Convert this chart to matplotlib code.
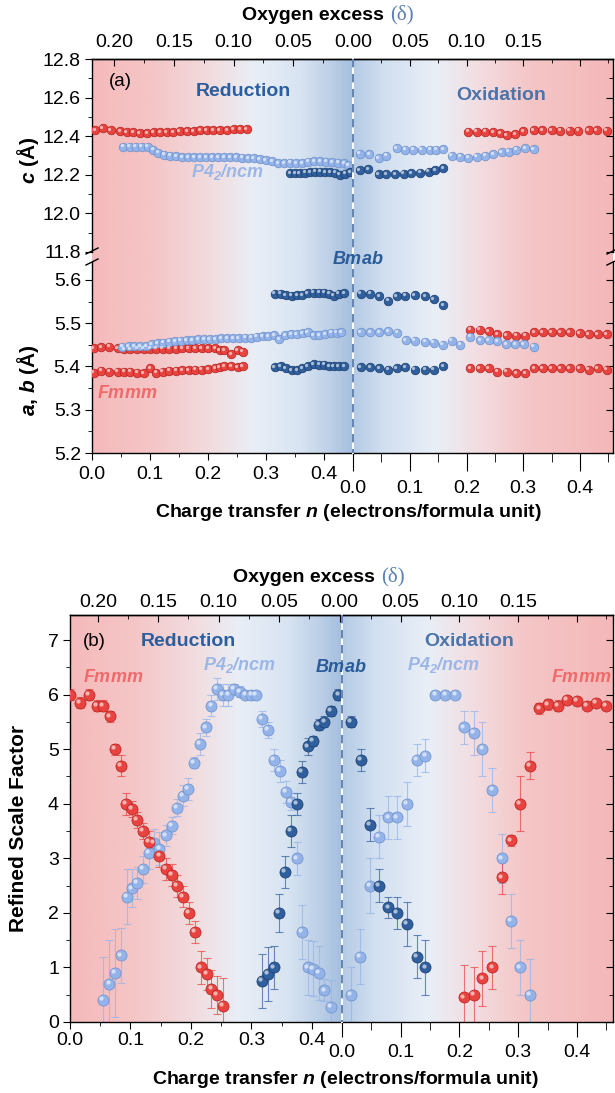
import numpy as np
import matplotlib
matplotlib.use("Agg")
import matplotlib.pyplot as plt
from matplotlib.colors import LinearSegmentedColormap
from matplotlib.transforms import ScaledTranslation
from matplotlib.lines import Line2D

plt.rcParams['font.family'] = ['Liberation Sans', 'DejaVu Sans']
plt.rcParams['mathtext.fontset'] = 'custom'
plt.rcParams['mathtext.rm'] = 'Liberation Sans:bold:italic'
plt.rcParams['mathtext.it'] = 'Liberation Sans:bold:italic'
plt.rcParams['mathtext.bf'] = 'Liberation Sans:bold:italic'

# ---------------- data: panel (a), lattice parameter c ----------------
ct_red_l_n = [0.005, 0.018, 0.031, 0.047, 0.058, 0.069, 0.080, 0.092, 0.103, 0.114, 0.125, 0.136,
              0.147, 0.159, 0.170, 0.181, 0.192, 0.203, 0.214, 0.226, 0.237, 0.248, 0.259]
ct_red_l = [12.43, 12.44, 12.43, 12.425, 12.42, 12.42, 12.415, 12.415, 12.42, 12.42, 12.42, 12.42,
            12.425, 12.425, 12.425, 12.43, 12.43, 12.43, 12.43, 12.43, 12.435, 12.435, 12.435]
ct_p4_l_n = [0.052, 0.063, 0.073, 0.083, 0.093, 0.102, 0.111, 0.121, 0.131, 0.141, 0.151, 0.161, 0.171,
             0.181, 0.191, 0.201, 0.211, 0.221, 0.231, 0.241, 0.251, 0.261, 0.271, 0.281, 0.291, 0.302,
             0.312, 0.322, 0.332, 0.342, 0.352, 0.362, 0.372, 0.382, 0.392, 0.402, 0.412, 0.422, 0.429]
ct_p4_l = [12.345, 12.345, 12.345, 12.345, 12.345, 12.33, 12.315, 12.305, 12.30, 12.295, 12.29, 12.29,
           12.29, 12.29, 12.29, 12.29, 12.29, 12.29, 12.29, 12.29, 12.288, 12.285, 12.285, 12.28, 12.275,
           12.27, 12.26, 12.26, 12.262, 12.26, 12.26, 12.268, 12.272, 12.27, 12.268, 12.265, 12.262,
           12.26, 12.25]
ct_bm_l_n = [0.332, 0.340, 0.348, 0.357, 0.365, 0.374, 0.382, 0.390, 0.399, 0.407, 0.415, 0.424, 0.432]
ct_bm_l = [12.208, 12.208, 12.208, 12.21, 12.215, 12.217, 12.217, 12.215, 12.215, 12.21, 12.2, 12.205, 12.212]
ct_p4_r_n = [0.012, 0.029, 0.045, 0.059, 0.077, 0.092, 0.106, 0.121, 0.136, 0.147, 0.159, 0.174, 0.189,
             0.203, 0.218, 0.233, 0.247, 0.262, 0.274, 0.288, 0.303, 0.318]
ct_p4_r = [12.31, 12.308, 12.285, 12.30, 12.337, 12.33, 12.33, 12.33, 12.33, 12.33, 12.333, 12.30,
           12.294, 12.289, 12.294, 12.30, 12.306, 12.316, 12.32, 12.33, 12.337, 12.333]
ct_bm_r_n = [0.012, 0.027, 0.045, 0.059, 0.074, 0.089, 0.103, 0.118, 0.133, 0.145, 0.159]
ct_bm_r = [12.225, 12.228, 12.203, 12.203, 12.203, 12.206, 12.208, 12.211, 12.216, 12.225, 12.234]
ct_red_r_n = [0.203, 0.218, 0.233, 0.247, 0.259, 0.271, 0.286, 0.300, 0.318, 0.333, 0.350, 0.365,
              0.382, 0.397, 0.415, 0.429, 0.447]
ct_red_r = [12.423, 12.423, 12.423, 12.42, 12.415, 12.406, 12.41, 12.427, 12.432, 12.432, 12.432,
            12.428, 12.428, 12.428, 12.432, 12.432, 12.428]

# ---------------- data: panel (a), lattice parameters a, b ----------------
ab_red_l_n = [0.003, 0.016, 0.030, 0.044, 0.055, 0.066, 0.078, 0.089, 0.100, 0.111, 0.122, 0.133,
              0.145, 0.156, 0.167, 0.178, 0.189, 0.200, 0.212, 0.220, 0.228, 0.240, 0.251, 0.260]
ab_red_l_b = [5.442, 5.444, 5.446, 5.442, 5.44, 5.44, 5.441, 5.441, 5.441, 5.441, 5.441, 5.441,
              5.441, 5.442, 5.442, 5.442, 5.442, 5.442, 5.442, 5.438, 5.437, 5.429, 5.438, 5.434]
ab_red_l_a = [5.386, 5.39, 5.388, 5.388, 5.388, 5.388, 5.386, 5.384, 5.396, 5.386, 5.388, 5.39,
              5.39, 5.392, 5.392, 5.393, 5.393, 5.394, 5.396, 5.398, 5.40, 5.40, 5.398, 5.40]
ab_p4_l_n = [0.052, 0.063, 0.073, 0.083, 0.093, 0.103, 0.113, 0.123, 0.133, 0.143, 0.153, 0.163, 0.173,
             0.183, 0.193, 0.203, 0.213, 0.223, 0.233, 0.243, 0.253, 0.264, 0.274, 0.284, 0.294, 0.304,
             0.314, 0.323, 0.333, 0.343, 0.353, 0.363, 0.372, 0.382, 0.392, 0.402, 0.412, 0.422, 0.430]
ab_p4_l = [5.446, 5.447, 5.447, 5.447, 5.447, 5.451, 5.454, 5.455, 5.457, 5.459, 5.46, 5.461, 5.461,
           5.463, 5.463, 5.463, 5.463, 5.465, 5.465, 5.465, 5.465, 5.467, 5.467, 5.469, 5.47, 5.47,
           5.472, 5.463, 5.473, 5.475, 5.475, 5.477, 5.48, 5.473, 5.473, 5.474, 5.478, 5.478, 5.48]
ab_bm_l_n = [0.315, 0.325, 0.334, 0.344, 0.354, 0.362, 0.372, 0.382, 0.392, 0.400, 0.409, 0.417, 0.425, 0.435]
ab_bm_l_b = [5.568, 5.568, 5.565, 5.564, 5.565, 5.565, 5.569, 5.571, 5.571, 5.571, 5.568, 5.564, 5.568, 5.569]
ab_bm_l_a = [5.398, 5.401, 5.396, 5.392, 5.392, 5.396, 5.401, 5.406, 5.404, 5.404, 5.401, 5.40, 5.40, 5.401]
ab_bm_r_n = [0.0135, 0.030, 0.046, 0.062, 0.077, 0.092, 0.109, 0.127, 0.142, 0.159]
ab_bm_r_b = [5.568, 5.568, 5.562, 5.552, 5.562, 5.564, 5.565, 5.562, 5.556, 5.542]
ab_bm_r_a = [5.398, 5.398, 5.396, 5.393, 5.396, 5.398, 5.393, 5.393, 5.393, 5.401]
ab_p4_r_n = [0.0135, 0.030, 0.046, 0.062, 0.078, 0.093, 0.109, 0.127, 0.142, 0.158, 0.174, 0.189,
             0.206, 0.224, 0.239, 0.254, 0.270, 0.286, 0.301, 0.318]
ab_p4_r = [5.48, 5.48, 5.48, 5.482, 5.478, 5.461, 5.46, 5.457, 5.455, 5.45, 5.46, 5.45, 5.469, 5.461,
           5.461, 5.459, 5.451, 5.451, 5.451, 5.446]
ab_red_r_n = [0.206, 0.223, 0.239, 0.254, 0.271, 0.287, 0.303, 0.319, 0.334, 0.350, 0.366, 0.382,
              0.399, 0.415, 0.431, 0.447]
ab_red_r_b = [5.485, 5.485, 5.481, 5.475, 5.473, 5.471, 5.471, 5.479, 5.479, 5.479, 5.479, 5.479,
              5.477, 5.475, 5.475, 5.475]
ab_red_r_a = [5.396, 5.396, 5.396, 5.388, 5.388, 5.384, 5.384, 5.396, 5.396, 5.396, 5.396, 5.396,
              5.396, 5.393, 5.396, 5.393]

# ---------------- data: panel (b), refined scale factor ----------------
sf_red_l_n = [0.0, 0.016, 0.031, 0.045, 0.055, 0.066, 0.074, 0.084, 0.092, 0.102, 0.111, 0.121, 0.130,
              0.148, 0.158, 0.168, 0.177, 0.187, 0.197, 0.206, 0.216, 0.226, 0.234, 0.243, 0.253]
sf_red_l = [6.0, 5.85, 6.0, 5.8, 5.8, 5.6, 5.0, 4.7, 4.0, 3.9, 3.7, 3.5, 3.3, 3.05, 2.8, 2.7, 2.5,
            2.3, 2.0, 1.65, 1.0, 0.88, 0.6, 0.5, 0.3]
sf_red_l_err = [0.1, 0.1, 0.1, 0.1, 0.1, 0.1, 0.1, 0.2, 0.2, 0.15, 0.15, 0.15, 0.2, 0.2, 0.2, 0.2,
                0.2, 0.2, 0.2, 0.2, 0.3, 0.3, 0.35, 0.35, 0.5]
sf_p4_l_n = [0.055, 0.065, 0.074, 0.084, 0.094, 0.102, 0.111, 0.121, 0.131, 0.139, 0.148, 0.158, 0.168,
             0.177, 0.187, 0.195, 0.205, 0.215, 0.225, 0.234, 0.243, 0.253, 0.262, 0.271, 0.281, 0.290,
             0.300, 0.308, 0.317, 0.328, 0.337, 0.347, 0.357, 0.365, 0.375, 0.384, 0.394, 0.402, 0.412,
             0.421, 0.431]
sf_p4_l = [0.4, 0.7, 0.9, 1.22, 2.3, 2.45, 2.55, 2.8, 3.1, 3.28, 3.18, 3.42, 3.6, 3.93, 4.15, 4.27,
           4.75, 5.1, 5.4, 5.8, 6.1, 6.0, 6.0, 6.1, 6.05, 6.0, 6.0, 6.0, 5.55, 5.35, 4.8, 4.6, 4.22,
           4.04, 3.0, 1.65, 1.0, 0.98, 0.9, 0.58, 0.27]
sf_p4_l_err = [0.8, 0.8, 0.8, 0.5, 0.5, 0.35, 0.3, 0.25, 0.3, 0.25, 0.3, 0.2, 0.15, 0.15, 0.2, 0.2,
               0.1, 0.2, 0.15, 0.2, 0.2, 0.2, 0.2, 0.1, 0.1, 0.05, 0.05, 0.05, 0.15, 0.15, 0.2, 0.2,
               0.2, 0.15, 0.3, 0.5, 0.5, 0.5, 0.5, 0.2, 0.5]
sf_bm_l_n = [0.318, 0.328, 0.337, 0.346, 0.356, 0.365, 0.375, 0.384, 0.394, 0.402, 0.412, 0.421, 0.432, 0.444]
sf_bm_l = [0.75, 0.88, 1.0, 2.0, 2.75, 3.5, 4.0, 4.58, 5.05, 5.15, 5.45, 5.5, 5.7, 6.0]
sf_bm_l_err = [0.5, 0.5, 0.4, 0.35, 0.3, 0.3, 0.2, 0.2, 0.15, 0.1, 0.1, 0.1, 0.1, 0.1]
sf_bm_r_n = [0.015, 0.032, 0.047, 0.063, 0.079, 0.094, 0.111, 0.127, 0.142]
sf_bm_r = [5.5, 4.8, 3.62, 2.5, 2.1, 2.0, 1.8, 1.2, 1.0]
sf_bm_r_err = [0.1, 0.2, 0.3, 0.3, 0.2, 0.3, 0.4, 0.4, 0.5]
sf_p4_r_n = [0.015, 0.031, 0.047, 0.063, 0.079, 0.094, 0.111, 0.127, 0.142, 0.159, 0.176, 0.193,
             0.208, 0.225, 0.239, 0.256, 0.272, 0.288, 0.303, 0.320]
sf_p4_r = [0.5, 1.2, 2.5, 3.4, 3.75, 3.75, 4.0, 4.8, 4.88, 6.0, 6.0, 6.0, 5.4, 5.3, 5.0, 4.25, 3.0,
           1.85, 1.0, 0.5]
sf_p4_r_err = [0.5, 0.5, 0.5, 0.4, 0.4, 0.4, 0.4, 0.3, 0.3, 0.05, 0.05, 0.05, 0.3, 0.4, 0.5, 0.4,
               0.45, 0.5, 0.5, 0.65]
sf_red_r_n = [0.208, 0.225, 0.239, 0.256, 0.272, 0.288, 0.303, 0.320, 0.336, 0.350, 0.367, 0.383,
              0.400, 0.417, 0.433, 0.450]
sf_red_r = [0.45, 0.5, 0.8, 1.0, 2.65, 3.33, 4.0, 4.7, 5.75, 5.82, 5.8, 5.9, 5.88, 5.8, 5.85, 5.8]
sf_red_r_err = [0.6, 0.5, 0.5, 0.4, 0.3, 0.1, 0.5, 0.25, 0.1, 0.1, 0.1, 0.05, 0.05, 0.05, 0.05, 0.05]

# extent of reduction / oxidation branches (n at the dashed line and at the right edge)
n_end_a = (0.437, 0.458)
n_end_b = (0.446, 0.4615)

# colours
RED, RED_E = '#e8433f', '#b3221f'
LIGHT, LIGHT_E = '#93b3e9', '#6d8fc9'
DARK, DARK_E = '#2f5f9c', '#1b3d6c'

W, H = 615, 1093
fig = plt.figure(figsize=(W / 100, H / 100), dpi=100)


def rect(x0, y0, x1, y1):
    return [x0 / W, 1 - y1 / H, (x1 - x0) / W, (y1 - y0) / H]


def ftext(x, y, s, **kw):
    fig.text(x / W, 1 - y / H, s, **kw)


bg_cmap = LinearSegmentedColormap.from_list('bg', [
    (0.00, '#f5babb'), (0.12, '#f5c6c7'), (0.24, '#f1dfe2'), (0.31, '#e9eef6'),
    (0.40, '#d8e4f2'), (0.46, '#bccfe7'), (0.499, '#a5bfdf'), (0.502, '#b4cae5'),
    (0.56, '#d1dff0'), (0.66, '#e9eff7'), (0.74, '#f2dee2'), (0.84, '#f5c6c7'),
    (1.00, '#f4b8b9')])


def background(x0, y0, x1, y1):
    bg = fig.add_axes(rect(x0, y0, x1, y1), zorder=-1)
    bg.imshow(np.linspace(0, 1, 800).reshape(1, -1), aspect='auto', cmap=bg_cmap,
              extent=[0, 1, 0, 1])
    bg.axis('off')


def spheres(ax, x, y, face, edge, size):
    ax.plot(x, y, 'o', ls='none', ms=size, mfc=face, mec=edge, mew=0.5, zorder=3)
    off = ScaledTranslation(-size * 0.16 / 72, size * 0.16 / 72, fig.dpi_scale_trans)
    ax.plot(x, y, 'o', ls='none', ms=size * 0.38, mfc='white', mec='none', alpha=0.6,
            transform=ax.transData + off, zorder=4)


def pair_axes(ax_l, ax_r, ylim, ymaj, ymin, nend):
    for ax in (ax_l, ax_r):
        ax.set_facecolor('none')
        ax.set_ylim(*ylim)
        ax.set_yticks(ymaj)
        ax.set_yticks(ymin, minor=True)
        for s in ax.spines.values():
            s.set_linewidth(1.0)
    ax_l.set_xlim(0, nend[0])
    ax_r.set_xlim(0, nend[1])
    ax_l.spines['right'].set_visible(False)
    ax_r.spines['left'].set_visible(False)
    ax_l.tick_params(axis='y', which='both', direction='out', left=True, right=False,
                     labelsize=14, pad=3)
    ax_l.tick_params(axis='y', which='major', length=5)
    ax_l.tick_params(axis='y', which='minor', length=3)
    ax_r.tick_params(axis='y', which='both', direction='in', left=False, right=True,
                     labelleft=False)
    ax_r.tick_params(axis='y', which='major', length=5)
    ax_r.tick_params(axis='y', which='minor', length=3)


def bottom_ticks(ax_l, ax_r, pad_l, pad_r, len_r):
    for ax in (ax_l, ax_r):
        ax.set_xticks([0.0, 0.1, 0.2, 0.3, 0.4])
        ax.set_xticks([0.05, 0.15, 0.25, 0.35, 0.45], minor=True)
        ax.xaxis.set_major_formatter('{x:.1f}')
        ax.tick_params(axis='x', which='both', direction='out', top=False, labelsize=14)
    ax_l.tick_params(axis='x', which='major', length=5, pad=pad_l)
    ax_l.tick_params(axis='x', which='minor', length=3)
    ax_r.tick_params(axis='x', which='major', length=len_r, pad=pad_r)
    ax_r.tick_params(axis='x', which='minor', length=len_r * 0.5)


def top_ticks(ax_l, ax_r, nd, pad):
    sec_l = ax_l.secondary_xaxis('top', functions=(lambda n: (nd - n) / 2, lambda d: nd - 2 * d))
    sec_l.set_xticks([0.20, 0.15, 0.10, 0.05, 0.00])
    sec_l.set_xticks([0.175, 0.125, 0.075, 0.025], minor=True)
    sec_r = ax_r.secondary_xaxis('top', functions=(lambda n: n / 2, lambda d: 2 * d))
    sec_r.set_xticks([0.05, 0.10, 0.15, 0.20], labels=['0.05', '0.10', '0.15', ''])
    sec_r.set_xticks([0.025, 0.075, 0.125, 0.175, 0.225], minor=True)
    sec_l.xaxis.set_major_formatter('{x:.2f}')
    for sec in (sec_l, sec_r):
        sec.tick_params(which='both', direction='in', labelsize=14, pad=pad)
        sec.tick_params(which='major', length=5)
        sec.tick_params(which='minor', length=3)
        sec.spines['top'].set_linewidth(1.0)
    for ax in (ax_l, ax_r):
        ax.tick_params(axis='x', which='both', top=False)


# ================= panel (a) =================
background(92, 59, 613, 453)
ax_c_l = fig.add_axes(rect(92, 59, 353, 252))
ax_c_r = fig.add_axes(rect(353, 59, 613, 252))
ax_ab_l = fig.add_axes(rect(92, 262, 353, 453))
ax_ab_r = fig.add_axes(rect(353, 262, 613, 453))

pair_axes(ax_c_l, ax_c_r, (11.8, 12.8), [11.8, 12.0, 12.2, 12.4, 12.6, 12.8],
          [11.9, 12.1, 12.3, 12.5, 12.7], n_end_a)
pair_axes(ax_ab_l, ax_ab_r, (5.2, 5.6416), [5.2, 5.3, 5.4, 5.5, 5.6],
          [5.25, 5.35, 5.45, 5.55], n_end_a)
ax_c_l.yaxis.set_major_formatter('{x:.1f}')
ax_ab_l.yaxis.set_major_formatter('{x:.1f}')
for ax in (ax_c_l, ax_c_r):
    ax.spines['bottom'].set_visible(False)
    ax.tick_params(axis='x', which='both', bottom=False, labelbottom=False)
for ax in (ax_ab_l, ax_ab_r):
    ax.spines['top'].set_visible(False)
bottom_ticks(ax_ab_l, ax_ab_r, 4.5, 6.5, 13)
top_ticks(ax_c_l, ax_c_r, n_end_a[0], 6)

MS_A = 6.2
spheres(ax_c_l, ct_red_l_n, ct_red_l, RED, RED_E, MS_A)
spheres(ax_c_l, ct_p4_l_n, ct_p4_l, LIGHT, LIGHT_E, MS_A)
spheres(ax_c_l, ct_bm_l_n, ct_bm_l, DARK, DARK_E, MS_A)
spheres(ax_c_r, ct_p4_r_n, ct_p4_r, LIGHT, LIGHT_E, MS_A)
spheres(ax_c_r, ct_bm_r_n, ct_bm_r, DARK, DARK_E, MS_A)
spheres(ax_c_r, ct_red_r_n, ct_red_r, RED, RED_E, MS_A)

spheres(ax_ab_l, ab_red_l_n, ab_red_l_b, RED, RED_E, MS_A)
spheres(ax_ab_l, ab_red_l_n, ab_red_l_a, RED, RED_E, MS_A)
spheres(ax_ab_l, ab_p4_l_n, ab_p4_l, LIGHT, LIGHT_E, MS_A)
spheres(ax_ab_l, ab_bm_l_n, ab_bm_l_b, DARK, DARK_E, MS_A)
spheres(ax_ab_l, ab_bm_l_n, ab_bm_l_a, DARK, DARK_E, MS_A)
spheres(ax_ab_r, ab_bm_r_n, ab_bm_r_b, DARK, DARK_E, MS_A)
spheres(ax_ab_r, ab_bm_r_n, ab_bm_r_a, DARK, DARK_E, MS_A)
spheres(ax_ab_r, ab_red_r_n, ab_red_r_b, RED, RED_E, MS_A)
spheres(ax_ab_r, ab_red_r_n, ab_red_r_a, RED, RED_E, MS_A)
spheres(ax_ab_r, ab_p4_r_n, ab_p4_r, LIGHT, LIGHT_E, MS_A)

# axis break marks
for xb in (92, 613):
    for yb in (251, 262):
        fig.add_artist(Line2D([(xb - 6) / W, (xb + 6) / W], [1 - (yb + 3) / H, 1 - (yb - 3) / H],
                              color='black', lw=1.0))

# dashed separators
for (xd, y0, y1) in [(353, 59, 453), (342, 615, 1022)]:
    fig.add_artist(Line2D([xd / W, xd / W], [1 - y0 / H, 1 - y1 / H], color='white', lw=1.4))
    fig.add_artist(Line2D([xd / W, xd / W], [1 - y0 / H, 1 - y1 / H], color='#4a6d9e', lw=1.2,
                          dashes=(5, 4)))

ftext(120, 82, '(a)', fontsize=13.5, ha='center', va='center')
ftext(243, 92, 'Reduction', fontsize=14, fontweight='bold', color='#2b5e9f', ha='center', va='center')
ftext(501, 95, 'Oxidation', fontsize=14, fontweight='bold', color='#4b74ab', ha='center', va='center')
ftext(227, 172, r'$P4_2/ncm$', fontsize=13, color='#9bb7e7', ha='center', va='center')
ftext(358, 259, r'$Bmab$', fontsize=13, color='#2b5c99', ha='center', va='center')
ftext(127, 393, r'$Fmmm$', fontsize=13, color='#f06a6a', ha='center', va='center')
ftext(389, 15, 'Oxygen excess ', fontsize=14, fontweight='bold', ha='right', va='center')
ftext(390, 15, '(δ)', fontsize=15, family=['Liberation Serif', 'DejaVu Serif'], color='#5d80b8',
      ha='left', va='center')
ftext(348, 512, 'Charge transfer $n$ (electrons/formula unit)', fontsize=14, fontweight='bold',
      ha='center', va='center')
ftext(28, 160, '$c$ (Å)', fontsize=15, fontweight='bold', rotation=90, ha='center', va='center')
ftext(28, 380, '$a$, $b$ (Å)', fontsize=15, fontweight='bold', rotation=90, ha='center', va='center')

# ================= panel (b) =================
background(70, 615, 613, 1022)
ax_b_l = fig.add_axes(rect(70, 615, 342, 1022))
ax_b_r = fig.add_axes(rect(342, 615, 613, 1022))
pair_axes(ax_b_l, ax_b_r, (0, 7.46), [0, 1, 2, 3, 4, 5, 6, 7],
          [0.5, 1.5, 2.5, 3.5, 4.5, 5.5, 6.5], n_end_b)
bottom_ticks(ax_b_l, ax_b_r, 2.5, 4.5, 11)
top_ticks(ax_b_l, ax_b_r, n_end_b[0], 3)

eb = dict(fmt='none', elinewidth=0.8, capsize=3, capthick=0.8, alpha=0.7, zorder=2)
ax_b_l.errorbar(sf_red_l_n, sf_red_l, yerr=sf_red_l_err, ecolor=RED, **eb)
ax_b_l.errorbar(sf_p4_l_n, sf_p4_l, yerr=sf_p4_l_err, ecolor=LIGHT, **eb)
ax_b_l.errorbar(sf_bm_l_n, sf_bm_l, yerr=sf_bm_l_err, ecolor=DARK, **eb)
ax_b_r.errorbar(sf_bm_r_n, sf_bm_r, yerr=sf_bm_r_err, ecolor=DARK, **eb)
ax_b_r.errorbar(sf_p4_r_n, sf_p4_r, yerr=sf_p4_r_err, ecolor=LIGHT, **eb)
ax_b_r.errorbar(sf_red_r_n, sf_red_r, yerr=sf_red_r_err, ecolor=RED, **eb)

MS_B = 8
spheres(ax_b_l, sf_p4_l_n, sf_p4_l, LIGHT, LIGHT_E, MS_B)
spheres(ax_b_l, sf_red_l_n, sf_red_l, RED, RED_E, MS_B)
spheres(ax_b_l, sf_bm_l_n, sf_bm_l, DARK, DARK_E, MS_B)
spheres(ax_b_r, sf_p4_r_n, sf_p4_r, LIGHT, LIGHT_E, MS_B)
spheres(ax_b_r, sf_bm_r_n, sf_bm_r, DARK, DARK_E, MS_B)
spheres(ax_b_r, sf_red_r_n, sf_red_r, RED, RED_E, MS_B)

ftext(94, 642, '(b)', fontsize=13.5, ha='center', va='center')
ftext(188, 642, 'Reduction', fontsize=14, fontweight='bold', color='#2b5e9f', ha='center', va='center')
ftext(469, 642, 'Oxidation', fontsize=14, fontweight='bold', color='#4b74ab', ha='center', va='center')
ftext(113, 677, r'$Fmmm$', fontsize=13, color='#f06a6a', ha='center', va='center')
ftext(239, 665, r'$P4_2/ncm$', fontsize=13, color='#9bb7e7', ha='center', va='center')
ftext(341, 667, r'$Bmab$', fontsize=13, color='#2b5c99', ha='center', va='center')
ftext(443, 665, r'$P4_2/ncm$', fontsize=13, color='#9bb7e7', ha='center', va='center')
ftext(581, 678, r'$Fmmm$', fontsize=13, color='#f06a6a', ha='center', va='center')
ftext(380, 577, 'Oxygen excess ', fontsize=14, fontweight='bold', ha='right', va='center')
ftext(381, 577, '(δ)', fontsize=15, family=['Liberation Serif', 'DejaVu Serif'], color='#5d80b8',
      ha='left', va='center')
ftext(345, 1080, 'Charge transfer $n$ (electrons/formula unit)', fontsize=14, fontweight='bold',
      ha='center', va='center')
ftext(19, 828, 'Refined Scale Factor', fontsize=15, fontweight='bold', rotation=90,
      ha='center', va='center')

fig.savefig('out.png', dpi=100)
